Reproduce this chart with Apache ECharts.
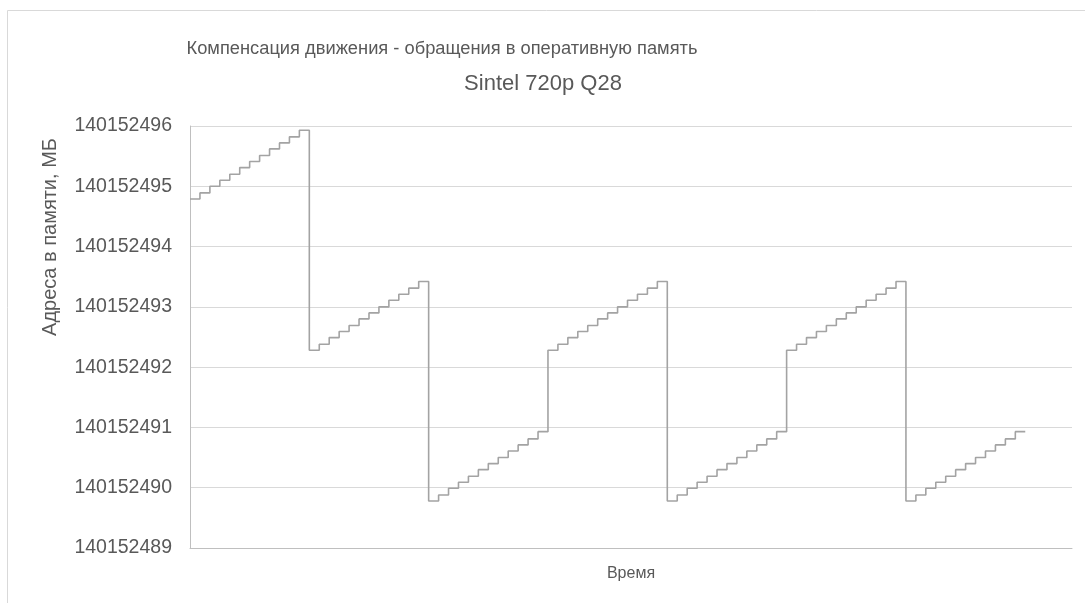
<!DOCTYPE html>
<html><head><meta charset="utf-8">
<script src="https://cdn.jsdelivr.net/npm/echarts@6/dist/echarts.min.js"></script>
<style>html,body{margin:0;padding:0;background:#fff}#c{width:1085px;height:603px}</style>
</head><body><div id="c"></div>
<script>
// Step levels (memory address, MB), 12 steps per ramp
const segA = [140152494.79,140152494.89,140152495.00,140152495.10,140152495.20,140152495.31,140152495.41,140152495.51,140152495.62,140152495.72,140152495.82,140152495.93];
const segB = [140152492.28,140152492.38,140152492.49,140152492.59,140152492.69,140152492.80,140152492.90,140152493.00,140152493.11,140152493.21,140152493.31,140152493.42];
const segC = [140152489.78,140152489.88,140152489.99,140152490.09,140152490.19,140152490.30,140152490.40,140152490.50,140152490.61,140152490.71,140152490.81,140152490.93];
const segOrder = ['A','B','C','B','C','B','C'];
const yTicks = [140152489,140152490,140152491,140152492,140152493,140152494,140152495,140152496];
const titleText = 'Компенсация движения - обращения в оперативную память';
const subtitleText = 'Sintel 720p Q28';
const yName = 'Адреса в памяти, МБ';
const xName = 'Время';

const segs = {A: segA, B: segB, C: segC};
const values = [];
segOrder.forEach(k => segs[k].forEach(v => values.push(v)));
const data = values.map((v, i) => [i, v]);
data.push([values.length, values[values.length - 1]]);

const chart = echarts.init(document.getElementById('c'));
const font = 'Liberation Sans';
chart.setOption({
  animation: false,
  graphic: [
    {type:'rect', shape:{x:7.5,y:10.5,width:1090,height:620}, style:{fill:'none', stroke:'#d9d9d9', lineWidth:1}},
    {type:'text', x:50, y:237, rotation:Math.PI/2, style:{text:yName, fontFamily:font, fontSize:20, fill:'#595959', align:'center', verticalAlign:'middle'}}
  ],
  title: [
    {text: titleText, left: 437, top: 35, textAlign: 'center', textStyle:{fontFamily:font, fontSize:18.3, fontWeight:'normal', color:'#595959'}},
    {text: subtitleText, left: 538, top: 68, textAlign: 'center', textStyle:{fontFamily:font, fontSize:22, fontWeight:'normal', color:'#595959'}}
  ],
  grid: {left:190, right:13, top:126, bottom:55, containLabel:false},
  xAxis: {
    type:'value', min:0, max:88.7,
    name: xName, nameLocation:'middle', nameGap:18,
    nameTextStyle:{fontFamily:font, fontSize:16, color:'#595959'},
    axisLine:{show:true, lineStyle:{color:'#bfbfbf', width:1}},
    axisTick:{show:false}, axisLabel:{show:false}, splitLine:{show:false}
  },
  yAxis: {
    type:'value', min:yTicks[0], max:yTicks[yTicks.length-1], interval:1,
    axisLine:{show:true, lineStyle:{color:'#bfbfbf', width:1}},
    axisTick:{show:false},
    axisLabel:{fontFamily:font, fontSize:19.5, color:'#595959', margin:18, formatter: v => String(Math.round(v))},
    splitLine:{show:true, lineStyle:{color:'#d9d9d9', width:1}}
  },
  series: [{
    type:'line', step:'end', data: data, showSymbol:false,
    lineStyle:{color:'#a3a3a3', width:1.6}
  }]
});
</script></body></html>
